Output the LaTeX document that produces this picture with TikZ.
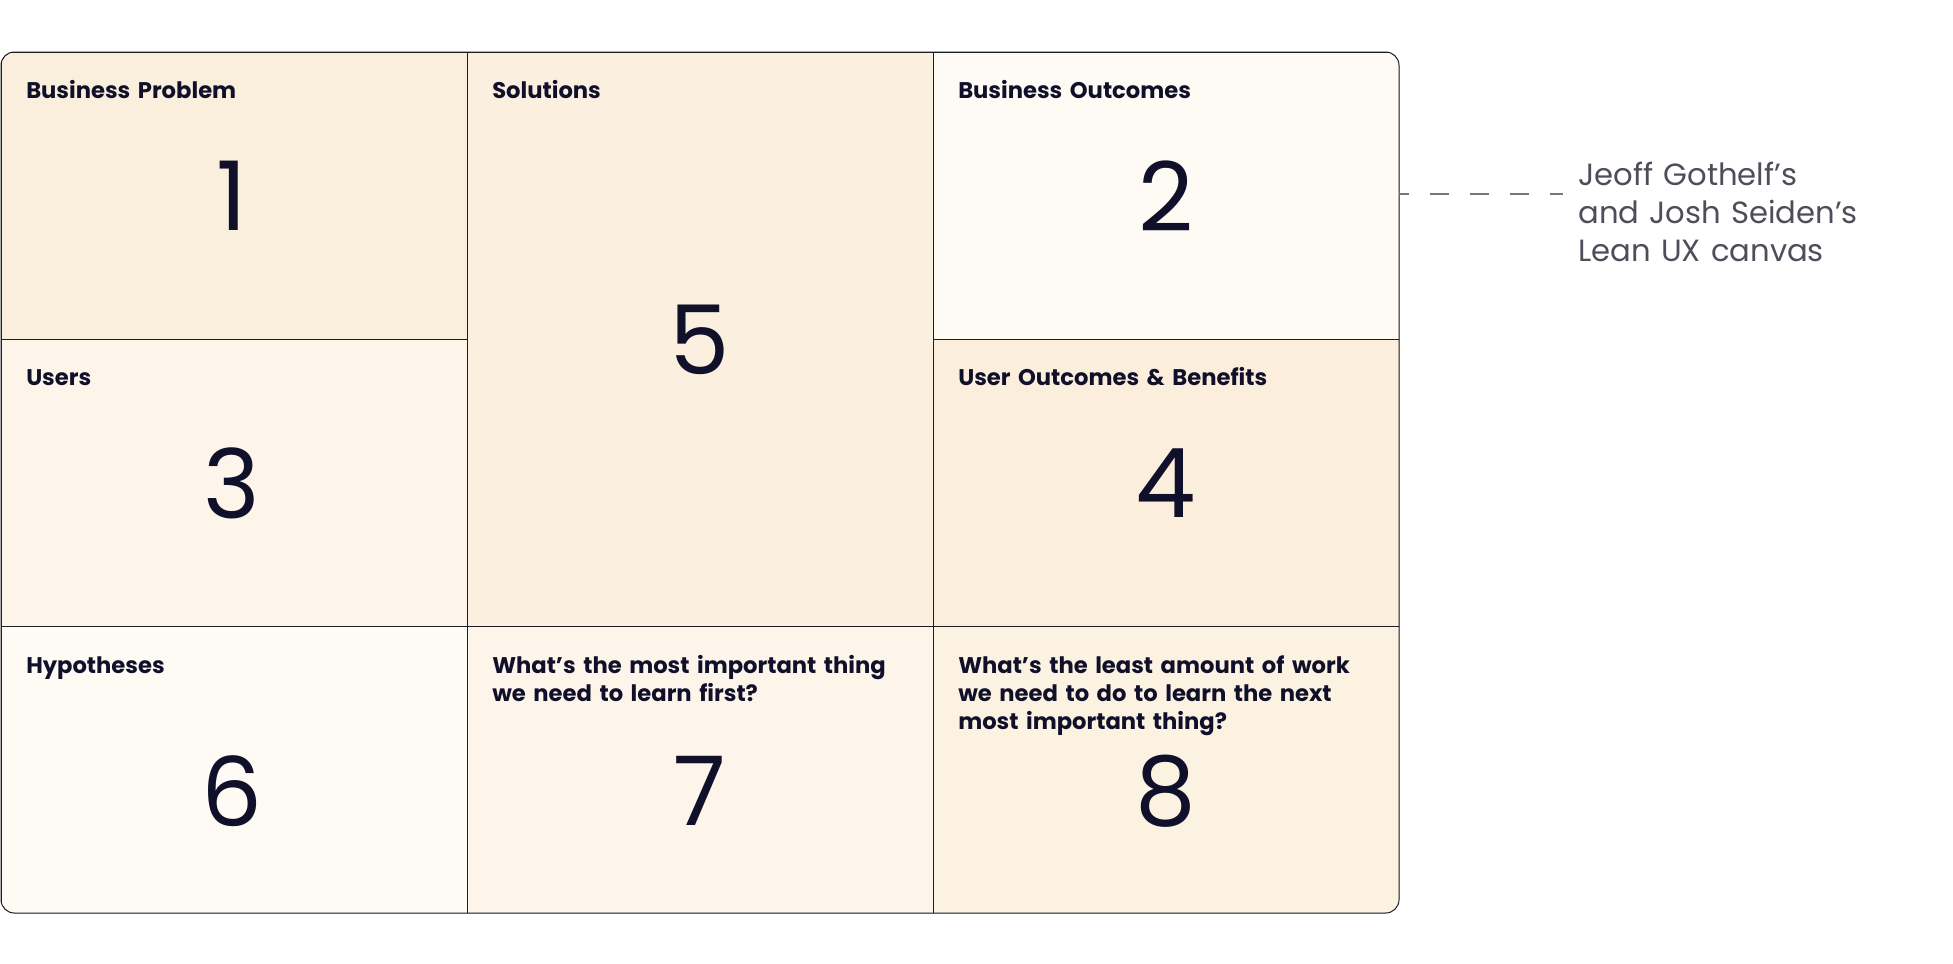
\documentclass[tikz,border=0pt]{standalone}
\usepackage{fontspec}
\setmainfont{Poppins}
\definecolor{ink}{HTML}{10102A}
\definecolor{edge}{HTML}{1C1C24}
\definecolor{notegray}{HTML}{4E4E5A}
\definecolor{dashgray}{HTML}{777777}
\definecolor{cA}{HTML}{FAEEDC}
\definecolor{cB}{HTML}{FBF0DF}
\definecolor{cC}{HTML}{FEFAF4}
\definecolor{cD}{HTML}{FDF5EA}
\definecolor{cE}{HTML}{FBEEDC}
\definecolor{cF}{HTML}{FEFBF5}
\definecolor{cG}{HTML}{FDF5EA}
\definecolor{cH}{HTML}{FCF2E2}
\begin{document}
\begin{tikzpicture}[x=0.75pt,y=-0.75pt,
  cell/.style={draw=edge, line width=0.75pt, minimum width=349.5pt,
    minimum height=215.25pt, inner sep=0pt, outer sep=0pt},
  tallcell/.style={cell, minimum height=430.5pt},
  head/.style={anchor=base west, inner sep=0pt, text width=330pt, align=left,
    text=ink, font=\bfseries\fontsize{17}{21}\selectfont},
  digit/.style={inner sep=0pt, text=ink, font=\fontsize{72}{72}\selectfont},
  note/.style={anchor=base west, inner sep=0pt, text width=260pt, align=left,
    text=notegray, font=\fontsize{23}{28.5}\selectfont}]
\useasboundingbox (0,0) rectangle (1953,964);

% canvas cells, clipped to the rounded outline
\begin{scope}
  \clip[rounded corners=10pt] (1,52) rectangle (1399,913);
  \node[cell, fill=cA] (bp)  at (234,195.5) {};
  \node[tallcell, fill=cB] (sol) at (700,339) {};
  \node[cell, fill=cC] (bo)  at (1166,195.5) {};
  \node[cell, fill=cD] (us)  at (234,482.5) {};
  \node[cell, fill=cE] (uob) at (1166,482.5) {};
  \node[cell, fill=cF] (hyp) at (234,769.5) {};
  \node[cell, fill=cG] (lrn) at (700,769.5) {};
  \node[cell, fill=cH] (wrk) at (1166,769.5) {};
\end{scope}
\draw[edge, line width=0.75pt, rounded corners=10pt] (1,52) rectangle (1399,913);

% section headings
\node[head] (hbp)  at (26,98)   {Business Problem};
\node[head] (hsol) at (492,98)  {Solutions};
\node[head] (hbo)  at (958,98)  {Business Outcomes};
\node[head] (hus)  at (26,385)  {Users};
\node[head] (huob) at (958,385) {User Outcomes \& Benefits};
\node[head] (hhyp) at (26,673)  {Hypotheses};
\node[head] (hlrn) at (492,673) {What’s the most important thing\\we need to learn first?};
\node[head] (hwrk) at (958,673) {What’s the least amount of work\\we need to do to learn the next\\most important thing?};

% step numbers
\node[digit] (n1) at (232,196) {1};
\node[digit] (n2) at (1166,196) {2};
\node[digit] (n3) at (232,483) {3};
\node[digit] (n4) at (1166,483) {4};
\node[digit] (n5) at (700,340) {5};
\node[digit] (n6) at (232,791) {6};
\node[digit] (n7) at (700,791) {7};
\node[digit] (n8) at (1166,791) {8};

% attribution
\node[note] (credit) at (1578,185) {Jeoff Gothelf’s\\and Josh Seiden’s\\Lean UX canvas};
\coordinate (dashend) at (1563,194);
\draw[dashgray, line width=1.1pt, dash pattern=on 14.25pt off 15.75pt, dash phase=6.75pt]
  (bo.east |- dashend) -- (dashend);
\end{tikzpicture}
\end{document}
